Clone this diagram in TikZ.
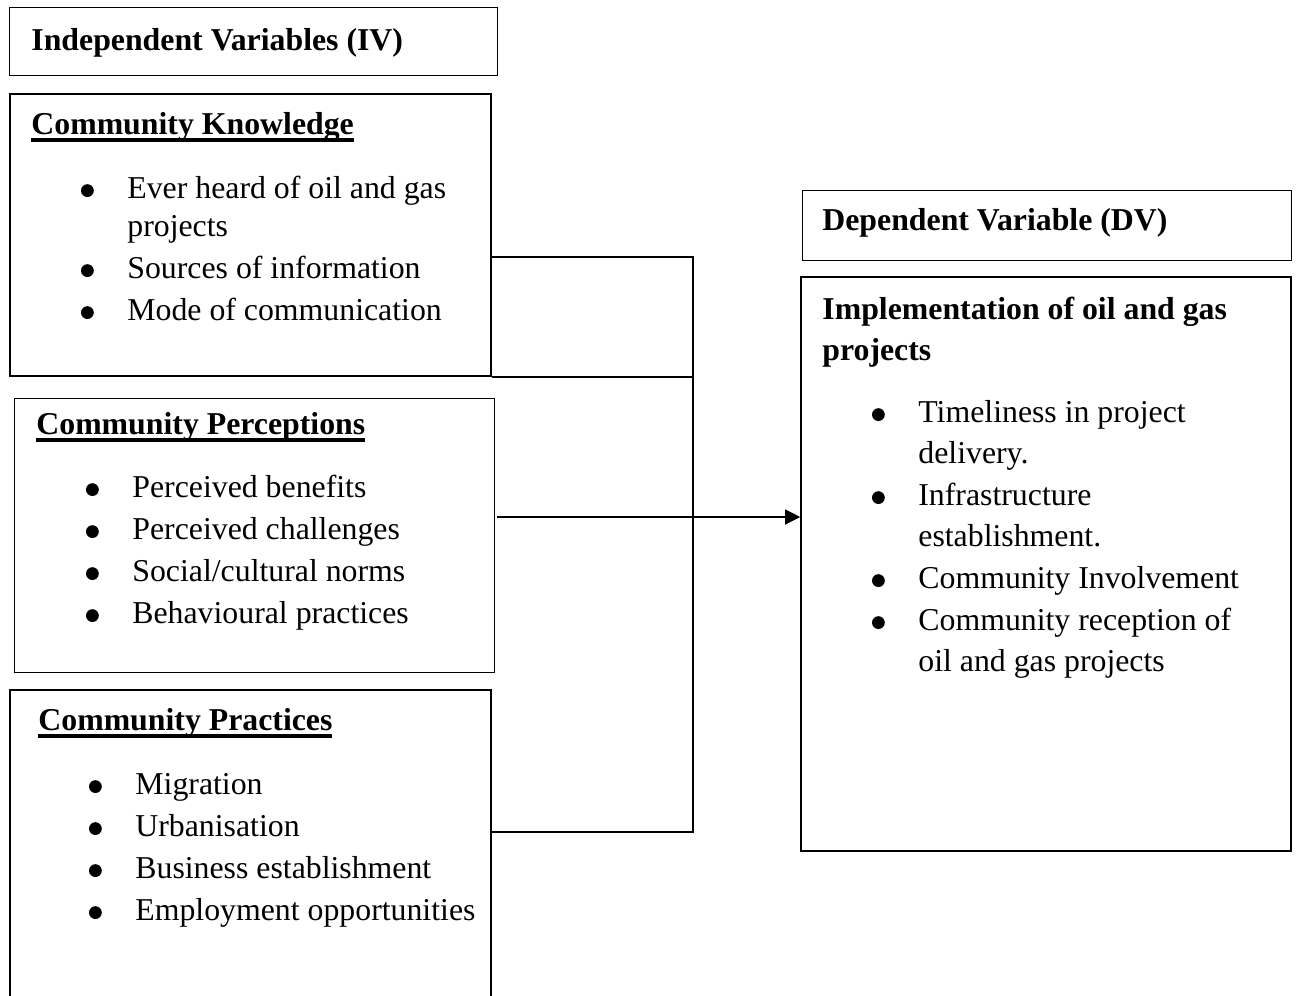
\documentclass[tikz,border=0pt]{standalone}
\usepackage{fontspec}
\setmainfont{Liberation Serif}
\usepackage{enumitem}
\usetikzlibrary{arrows.meta,positioning,fit}
\newcommand{\bigbul}{\tikz[baseline=-3.7pt]\fill (0,0) circle[radius=3.2pt];}
\setlist[itemize]{label=\bigbul, topsep=0pt, partopsep=0pt, parsep=0pt, labelwidth=6.2pt, labelsep=16.8pt, leftmargin=23pt}
\newcommand{\headul}[1]{\setbox0\hbox{#1}\rlap{\rule[-3.8pt]{\wd0}{1.6pt}}\box0}
\newcommand{\blist}[3]{\begin{minipage}[t]{240pt}\raggedright\fontsize{15.9}{#1}\selectfont\begin{itemize}[itemsep=#2]#3\end{itemize}\end{minipage}}

\begin{document}
\begin{tikzpicture}[
x=0.5pt, y=-0.5pt,
box/.style={draw, line width=0.5pt, inner sep=0pt},
heavybox/.style={box, line width=1pt},
dvbox/.style={box, line width=0.8pt},
head/.style={anchor=base west, inner sep=0pt, font=\bfseries\fontsize{15.9}{20.5}\selectfont},
list/.style={anchor=base west, inner sep=0pt},
conn/.style={line width=1pt},
arrow/.style={-{Triangle[length=7.5pt, width=7.5pt]}, line width=0.6pt}
]
\useasboundingbox (0,0) rectangle (1296,996);
\clip (0,0) rectangle (1296,996);

% independent variables
\node[box, fit={(9,7) (497,75)}] (iv) {};
\node[head] (ivt) at (31,50) {Independent Variables (IV)};

\node[heavybox, fit={(10,94) (491,376)}] (kn) {};
\node[head] (knt) at (31,134) {\headul{Community Knowledge}};
\node[list] (knl) at (81,198) {\blist{19pt}{2pt}{
  \item Ever heard of oil and gas\newline projects
  \item Sources of information
  \item Mode of communication}};

\node[box, fit={(14,398) (494,672)}] (pe) {};
\node[head] (pet) at (36,434) {\headul{Community Perceptions}};
\node[list] (pel) at (86,497) {\blist{19pt}{2pt}{
  \item Perceived benefits
  \item Perceived challenges
  \item Social/cultural norms
  \item Behavioural practices}};

\node[heavybox, fit={(10,690) (491,1010)}] (pr) {};
\node[head] (prt) at (38,730) {\headul{Community Practices}};
\node[list] (prl) at (89,794) {\blist{19pt}{2pt}{
  \item Migration
  \item Urbanisation
  \item Business establishment
  \item Employment opportunities}};

% dependent variable
\node[box, fit={(802,190) (1291,260)}] (dv) {};
\node[head] (dvt) at (822,230) {Dependent Variable (DV)};

\node[dvbox, fit={(801,277) (1291,851)}] (im) {};
\node[head] (imt) at (822,319) {\begin{minipage}[t]{240pt}\fontsize{15.9}{20.5}\selectfont\bfseries Implementation of oil and gas\\projects\end{minipage}};
\node[list] (iml) at (872,422) {\blist{20.5pt}{0.5pt}{
  \item Timeliness in project\newline delivery.
  \item Infrastructure\newline establishment.
  \item Community Involvement
  \item Community reception of\newline oil and gas projects}};

% connectors
\coordinate (jt) at (693,257);
\coordinate (jb) at (693,832);
\draw[conn] (kn.east |- jt) -- (jt) -- (jb) -- (pr.east |- jb);
\draw[conn] (kn.south east) -- (kn.south east -| jt);

\coordinate (as) at (497,517);
\draw[arrow] (as) -- (as -| im.west);
\end{tikzpicture}
\end{document}
